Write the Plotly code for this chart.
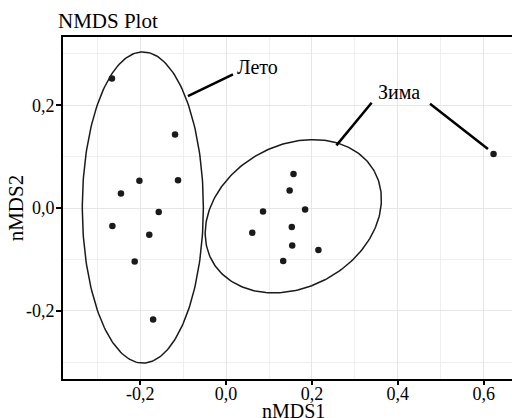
import numpy as np
import plotly.graph_objects as go

# ---- data ----
summer_x = [-0.266, -0.119, -0.202, -0.112, -0.245, -0.157, -0.265, -0.179, -0.213, -0.170]
summer_y = [0.252, 0.143, 0.053, 0.054, 0.028, -0.008, -0.035, -0.052, -0.104, -0.217]
winter_x = [0.157, 0.148, 0.086, 0.184, 0.061, 0.153, 0.154, 0.215, 0.133, 0.623]
winter_y = [0.066, 0.034, -0.007, -0.003, -0.048, -0.037, -0.073, -0.082, -0.103, 0.105]

# ellipse parameters: centre and two semi-axis vectors (data units)
summer_center = (-0.194, 0.001)
summer_u = (0.141, 0.0)
summer_v = (0.0, 0.303)
winter_center = (0.1565, -0.016)
winter_u = (0.189, 0.0872)
winter_v = (0.080, -0.121)

# labels and leader lines
label_names = ["Лето", "Зима"]
label_x = [0.072, 0.402]
label_y = [0.275, 0.225]
leader_x0 = [0.016, 0.339, 0.475]
leader_y0 = [0.260, 0.205, 0.203]
leader_x1 = [-0.089, 0.257, 0.610]
leader_y1 = [0.218, 0.122, 0.115]

# ticks
x_tickvals = [-0.2, 0.0, 0.2, 0.4, 0.6]
x_ticktext = ["-0,2", "0,0", "0,2", "0,4", "0,6"]
y_tickvals = [-0.2, 0.0, 0.2]
y_ticktext = ["-0,2", "0,0", "0,2"]

x_range = [-0.38, 0.666]
y_range = [-0.333, 0.333]

FONT = "Liberation Serif"


def ellipse(center, u, v, n=240):
    t = np.linspace(0, 2 * np.pi, n)
    ex = center[0] + np.cos(t) * u[0] + np.sin(t) * v[0]
    ey = center[1] + np.cos(t) * u[1] + np.sin(t) * v[1]
    return ex, ey


fig = go.Figure()

for c, u, v in [(summer_center, summer_u, summer_v), (winter_center, winter_u, winter_v)]:
    ex, ey = ellipse(c, u, v)
    fig.add_trace(go.Scatter(x=ex, y=ey, mode="lines",
                             line=dict(color="#1a1a1a", width=1.5),
                             hoverinfo="skip", showlegend=False))

fig.add_trace(go.Scatter(x=summer_x + winter_x, y=summer_y + winter_y, mode="markers",
                         marker=dict(color="#1a1a1a", size=6.5),
                         showlegend=False))

for x0, y0, x1, y1 in zip(leader_x0, leader_y0, leader_x1, leader_y1):
    fig.add_shape(type="line", x0=x0, y0=y0, x1=x1, y1=y1, xref="x", yref="y",
                  line=dict(color="black", width=2.5))

for name, lx, ly in zip(label_names, label_x, label_y):
    fig.add_annotation(x=lx, y=ly, text=name, showarrow=False,
                       font=dict(family=FONT, size=20, color="black"))

# axis titles
fig.add_annotation(text="nMDS1", xref="paper", yref="paper", x=0.513, y=-0.0925,
                   xanchor="center", yanchor="middle", showarrow=False,
                   font=dict(family=FONT, size=20, color="black"))
fig.add_annotation(text="nMDS2", xref="paper", yref="paper", x=-0.104, y=0.5,
                   textangle=-90, xanchor="center", yanchor="middle", showarrow=False,
                   font=dict(family=FONT, size=21, color="black"))

fig.update_layout(
    width=512, height=418,
    margin=dict(l=63, r=0, t=37, b=39),
    paper_bgcolor="white", plot_bgcolor="white",
    font=dict(family=FONT, size=18, color="black"),
    title=dict(text="NMDS Plot", x=58 / 512, xanchor="left", xref="container",
               y=1 - 21 / 418, yanchor="middle", yref="container",
               font=dict(family=FONT, size=21, color="black")),
    showlegend=False,
)

fig.update_xaxes(range=x_range, tickvals=x_tickvals, ticktext=x_ticktext,
                 showgrid=True, gridcolor="#e6e6e6", gridwidth=1.2,
                 minor=dict(dtick=0.1, tick0=0, showgrid=True, gridcolor="#efefef", gridwidth=1),
                 zeroline=False, showline=True, linecolor="black", linewidth=2,
                 mirror=True, ticks="outside", ticklen=4, tickwidth=1.5, tickcolor="black",
                 ticklabelstandoff=-7,
                 tickfont=dict(family=FONT, size=18, color="black"))
fig.update_yaxes(range=y_range, tickvals=y_tickvals, ticktext=y_ticktext,
                 showgrid=True, gridcolor="#e6e6e6", gridwidth=1.2,
                 minor=dict(dtick=0.1, tick0=0, showgrid=True, gridcolor="#efefef", gridwidth=1),
                 zeroline=False, showline=True, linecolor="black", linewidth=2,
                 ticks="outside", ticklen=5, tickwidth=1.5, tickcolor="black",
                 ticklabelstandoff=-2,
                 tickfont=dict(family=FONT, size=18, color="black"))

fig.write_html("out.html", config={"displayModeBar": False},
               post_script="document.body.style.margin='0';document.body.style.padding='0';")
